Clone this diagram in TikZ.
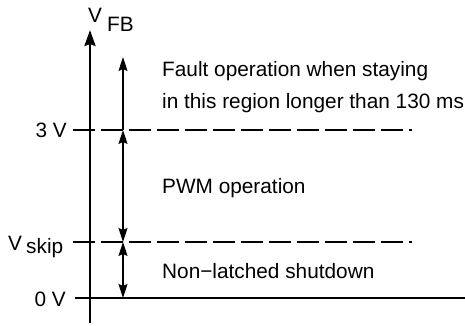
\documentclass[tikz,border=0pt]{standalone}
\usepackage{fontspec}
\setmainfont{Liberation Sans}
\usetikzlibrary{arrows.meta}
\begin{document}
\begin{tikzpicture}[x=1pt,y=-1pt,
  lbl/.style={inner sep=0pt,font=\fontsize{20.8}{24}\selectfont},
  axisline/.style={line width=2.4pt},
  levelline/.style={line width=2pt,dash pattern=on 22pt off 6pt},
  zeroline/.style={line width=2pt},
  dimline/.style={line width=1.1pt}]
\useasboundingbox (0,0) rectangle (465,326);
% axis
\coordinate (axb) at (90,323);
\coordinate (axt) at (90,30);
\draw[axisline,-{Stealth[length=16pt,width=11pt,inset=2pt]}] (axb) -- (axt);
% level lines
\coordinate (l3a) at (73,130);  \coordinate (l3b) at (412,130);
\coordinate (lsa) at (73,242);  \coordinate (lsb) at (412,242);
\coordinate (l0a) at (75,298);  \coordinate (l0b) at (465,298);
\draw[levelline] (l3a) -- (l3b);
\draw[levelline] (lsa) -- (lsb);
\draw[zeroline] (l0a) -- (l0b);
% dimension arrows
\coordinate (dtop) at (123,57);
\coordinate (d3) at (123,130);
\coordinate (ds) at (123,242);
\coordinate (d0) at (123,298);
\draw[dimline,-{Stealth[length=14pt,width=9pt,inset=2pt]}] (d3) -- (dtop);
\draw[dimline,{Stealth[length=14pt,width=9pt,inset=2pt]}-{Stealth[length=14pt,width=9pt,inset=2pt]}] (d3) -- (ds);
\draw[dimline,{Stealth[length=14pt,width=9pt,inset=2pt]}-{Stealth[length=14pt,width=9pt,inset=2pt]}] (ds) -- (d0);
% labels
\node[lbl,anchor=base west] (vfbV) at (88,23) {V};
\node[lbl,anchor=base west] (vfbS) at (107,32) {FB};
\node[lbl,anchor=base east] (l3) at (67,137) {3 V};
\node[lbl,anchor=base west] (vsV) at (8,250) {V};
\node[lbl,anchor=base west] (vsS) at (26,253) {skip};
\node[lbl,anchor=base east] (l0) at (66,306) {0 V};
\node[lbl,anchor=base west] (t1) at (162,77) {Fault operation when staying};
\node[lbl,anchor=base west] (t2) at (162,108) {in this region longer than 130 ms};
\node[lbl,anchor=base west] (t3) at (162,193) {PWM operation};
\node[lbl,anchor=base west] (t4) at (162,278) {Non−latched shutdown};
\end{tikzpicture}
\end{document}
